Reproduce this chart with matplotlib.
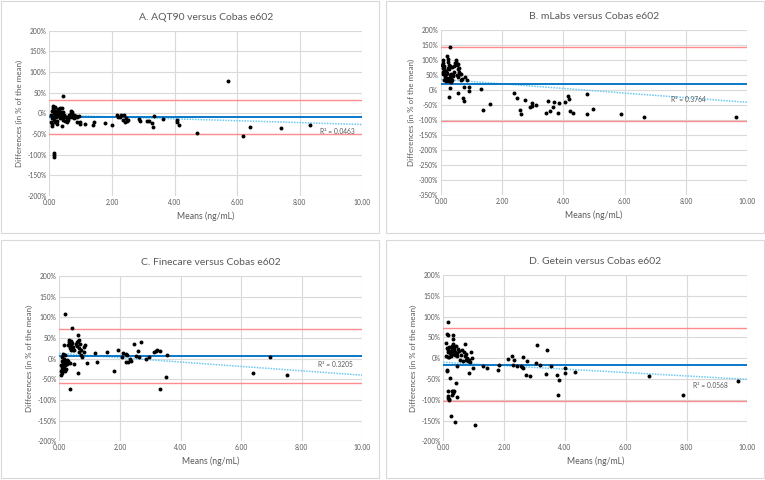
import matplotlib
matplotlib.use("Agg")
import matplotlib.pyplot as plt
from matplotlib.patches import Rectangle
from matplotlib.ticker import FuncFormatter, MultipleLocator

plt.rcParams['font.family'] = ['Lato', 'DejaVu Sans']

# ---------------- data ----------------
titles = ["A. AQT90 versus Cobas e602", "B. mLabs versus Cobas e602",
          "C. Finecare versus Cobas e602", "D. Getein versus Cobas e602"]
x_label = "Means (ng/mL)"
y_label = "Differences (in % of the mean)"

# Panel A
a_x = [0.05, 0.07, 0.08, 0.09, 0.10, 0.10, 0.12, 0.12, 0.13, 0.14,
       0.15, 0.16, 0.17, 0.18, 0.19, 0.20, 0.21, 0.22, 0.24, 0.25,
       0.26, 0.28, 0.30, 0.32, 0.33, 0.35, 0.36, 0.38, 0.40, 0.41,
       0.42, 0.44, 0.45, 0.47, 0.48, 0.50, 0.52, 0.55, 0.58, 0.60,
       0.62, 0.65, 0.68, 0.70, 0.72, 0.74, 0.76, 0.78, 0.80, 0.82,
       0.85, 0.88, 0.90, 0.45, 0.15, 0.15, 0.16, 0.95, 0.97, 0.98,
       1.15, 1.40, 1.43, 1.78, 1.99, 2.15, 2.20, 2.25, 2.30, 2.35,
       2.38, 2.42, 2.45, 2.48, 2.50, 2.88, 2.91, 3.11, 3.20, 3.27,
       3.31, 3.34, 3.62, 4.07, 4.07, 4.15, 4.72, 5.70, 6.20, 6.40,
       7.40, 8.33]
a_y = [-5, -22, -30, -12, 5, -25, 18, -8, 12, 0,
       -15, 8, -3, 15, -20, 5, -10, 2, -18, -6,
       -25, 10, -2, 6, -12, 12, -5, 3, 14, -8,
       -30, -15, 4, -10, -3, -18, -8, -22, -12, -15,
       -5, -10, 6, 2, -8, 4, -5, -12, -3, -10,
       -6, -20, -8, 42, -97, -101, -105, -6, -25, -20,
       -26, -27, -22, -24, -29, -5, -8, -10, -3, -15,
       -5, -20, -12, -18, -15, -14, -19, -18, -18, -24,
       -33, -7, -14, -15, -20, -29, -48, 78, -56, -33,
       -35, -29]

# Panel B
b_x = [0.04, 0.05, 0.06, 0.07, 0.08, 0.08, 0.09, 0.10, 0.10, 0.11,
       0.12, 0.13, 0.14, 0.15, 0.16, 0.17, 0.18, 0.19, 0.20, 0.21,
       0.22, 0.23, 0.24, 0.25, 0.26, 0.27, 0.28, 0.30, 0.31, 0.32,
       0.33, 0.34, 0.35, 0.36, 0.38, 0.40, 0.42, 0.44, 0.46, 0.48,
       0.50, 0.51, 0.52, 0.54, 0.55, 0.57, 0.58, 0.60, 0.62, 0.64,
       0.66, 0.70, 0.80, 0.85, 0.30, 0.55, 0.27, 0.30, 0.72, 0.74,
       0.76, 0.90, 0.92, 1.31, 1.36, 1.60, 2.40, 2.48, 2.57, 2.62,
       2.76, 2.92, 2.97, 2.99, 3.11, 3.44, 3.51, 3.55, 3.67, 3.69,
       3.82, 3.87, 4.06, 4.15, 4.18, 4.22, 4.32, 4.78, 4.76, 4.97,
       5.87, 6.64, 9.65]
b_y = [85, 100, 60, 75, 55, 90, 70, 65, 35, 80,
       50, 60, 45, 55, 30, 62, 40, 58, 35, 115,
       95, 105, 75, 30, 85, 70, 50, 80, 40, 45,
       28, 55, 35, 78, 50, 48, 80, 60, 90, 100,
       95, 85, 50, 70, 88, 45, 75, 60, 52, 35,
       55, 38, 45, 35, 142, -9, -22, 7, -28, -35,
       11, 11, -2, 2, -67, -47, -11, -28, -66, -81,
       -34, -56, -52, -42, -51, -76, -38, -70, -57, -39,
       -78, -44, -40, -21, -30, -70, -76, -14, -79, -63,
       -79, -90, -90]

# Panel C
c_x = [0.05, 0.06, 0.07, 0.08, 0.08, 0.09, 0.10, 0.10, 0.11, 0.12,
       0.12, 0.13, 0.14, 0.15, 0.16, 0.17, 0.18, 0.19, 0.20, 0.21,
       0.22, 0.23, 0.24, 0.25, 0.26, 0.28, 0.30, 0.32, 0.33, 0.34,
       0.35, 0.36, 0.37, 0.38, 0.40, 0.42, 0.44, 0.46, 0.50, 0.55,
       0.58, 0.60, 0.62, 0.64, 0.65, 0.66, 0.68, 0.70, 0.72, 0.75,
       0.80, 0.82, 0.85, 0.50, 0.28, 0.20, 0.35, 0.19, 0.43, 0.35,
       0.61, 0.61, 0.17, 0.90, 1.18, 1.23, 1.56, 1.82, 1.95, 2.06,
       2.11, 2.20, 2.20, 2.25, 2.28, 2.32, 2.35, 2.48, 2.52, 2.60,
       2.62, 2.69, 2.86, 2.95, 3.11, 3.20, 3.22, 3.33, 3.31, 3.53,
       3.55, 6.39, 6.97, 7.52]
c_y = [-30, -40, -15, -25, -5, -35, -20, 5, -10, -28,
       12, -18, -8, -22, -12, 0, -30, 8, -15, -5,
       -10, -25, -3, -12, -8, -5, -10, 45, 40, 30,
       35, 25, 42, 20, 30, 38, 22, 28, 20, 35,
       40, 30, 42, 25, 44, 15, 35, 22, 8, 3,
       28, 17, 32, -12, 32, -8, -10, 108, 73, -74,
       57, -34, 33, -10, 13, -7, 17, -30, 20, 3,
       14, 12, -9, 9, -9, -2, -5, 36, 7, 18,
       3, 40, -2, 5, 15, 18, 21, 19, -73, -45,
       10, -34, 4, -40]

# Panel D
d_x = [0.10, 0.12, 0.14, 0.15, 0.17, 0.18, 0.20, 0.22, 0.24, 0.25,
       0.27, 0.28, 0.30, 0.31, 0.32, 0.33, 0.35, 0.36, 0.38, 0.40,
       0.42, 0.44, 0.46, 0.48, 0.50, 0.55, 0.58, 0.62, 0.65, 0.68,
       0.70, 0.72, 0.74, 0.76, 0.78, 0.80, 0.85, 0.88, 0.92, 0.95,
       0.16, 0.08, 0.12, 0.17, 0.32, 0.33, 0.12, 0.13, 0.14, 0.15,
       0.16, 0.18, 0.20, 0.22, 0.24, 0.27, 0.28, 0.31, 0.33, 0.35,
       0.37, 0.42, 0.45, 0.46, 0.83, 0.99, 1.05, 1.32, 1.45, 1.81,
       1.84, 2.12, 2.25, 2.28, 2.31, 2.41, 2.54, 2.60, 2.63, 2.63,
       2.74, 2.72, 2.84, 3.05, 3.07, 3.19, 3.40, 3.39, 3.53, 3.74,
       3.78, 3.82, 4.01, 4.01, 4.34, 6.77, 7.89, 9.70]
d_y = [5, 25, 15, 3, 20, 28, 2, 12, 18, 5,
       22, 30, 15, 35, 10, 25, 20, 28, 8, 15,
       30, 12, 5, 22, 18, -5, 8, 20, -8, 15,
       35, 5, -5, 10, 0, -8, -5, -10, 15, 0,
       88, 37, 58, 56, 55, 46, -28, -30, -78, -90,
       -95, -100, -98, -48, -140, -80, -88, -85, -78, -80,
       -153, -59, -93, -20, -36, -24, -160, -18, -23, -29,
       -17, -2, 4, -17, -5, -18, -19, -22, -24, 3,
       -8, -40, -43, -12, 31, -16, 20, -39, -18, -40,
       -89, -52, -24, -35, -34, -44, -89, -55]

points_x = [a_x, b_x, c_x, d_x]
points_y = [a_y, b_y, c_y, d_y]

mean_bias = [-10, 19, 6, -17]
upper_loa = [32, 142, 71, 72]
lower_loa = [-50, -104, -58, -104]
trend_y0 = [-4, 36, 13, -10]     # trend line value at x = 0
trend_y10 = [-27, -41, -40, -51]  # trend line value at x = 10
r2_text = ["R² = 0.0463", "R² = 0.3764", "R² = 0.3205", "R² = 0.0568"]
r2_pos = [(9.2, -43), (8.1, -33), (9.1, -15), (8.8, -65)]
y_ranges = [(-200, 200), (-350, 200), (-200, 200), (-200, 200)]
x_ticks = [0, 2, 4, 6, 8, 10]

# ---------------- layout ----------------
W, H = 765, 480
fig = plt.figure(figsize=(W / 100, H / 100), dpi=100)

def fx(px):
    return px / W

def fy(py):
    return 1 - py / H

frames = [(1, 1, 379, 233), (386, 1, 764, 233), (1, 240, 379, 478), (386, 240, 764, 478)]
areas = [(49.3, 30.7, 362.3, 196), (441, 30, 747, 195),
         (59.3, 276, 362.3, 441.3), (443.3, 275, 747.3, 441.3)]

text_col = "#595959"
grid_col = "#d9d9d9"

for i in range(4):
    l, t, r, b = frames[i]
    fig.patches.append(Rectangle((fx(l), fy(b)), fx(r - l), (b - t) / H,
                                 transform=fig.transFigure, fill=False,
                                 edgecolor="#d9d9d9", linewidth=0.8))
    l, t, r, b = areas[i]
    ax = fig.add_axes([fx(l), fy(b), fx(r - l), (b - t) / H])
    ymin, ymax = y_ranges[i]
    ax.set_xlim(0, 10)
    ax.set_ylim(ymin, ymax)
    ax.set_xticks(x_ticks)
    ax.yaxis.set_major_locator(MultipleLocator(50))
    ax.xaxis.set_major_formatter(FuncFormatter(lambda v, p: f"{v:.2f}"))
    ax.yaxis.set_major_formatter(FuncFormatter(lambda v, p: f"{int(round(v))}%"))
    ax.grid(True, color=grid_col, linewidth=0.8)
    ax.set_axisbelow(True)
    for s in ax.spines.values():
        s.set_visible(False)
    ax.tick_params(length=0, labelsize=4.8, labelcolor=text_col, pad=2)

    ax.axhline(upper_loa[i], color="#ff8c8c", linewidth=1.0, zorder=2)
    ax.axhline(lower_loa[i], color="#ff8c8c", linewidth=1.0, zorder=2)
    ax.plot([0, 10], [trend_y0[i], trend_y10[i]], color="#6ccaf2",
            linestyle=(0, (1, 0.8)), linewidth=1.1, zorder=2)
    ax.axhline(mean_bias[i], color="#0a78c8", linewidth=1.4, zorder=3)
    ax.scatter(points_x[i], points_y[i], s=8, color="black", zorder=4, linewidths=0)
    ax.text(r2_pos[i][0], r2_pos[i][1], r2_text[i], fontsize=4.8, color=text_col,
            ha="center", va="center", zorder=5)

    ax.set_title(titles[i], fontsize=7.5, color=text_col, pad=8)
    ax.set_xlabel(x_label, fontsize=6.2, color=text_col, labelpad=4)
    ax.set_ylabel(y_label, fontsize=5.8, color=text_col, labelpad=3)

fig.savefig("out.png", dpi=100)
